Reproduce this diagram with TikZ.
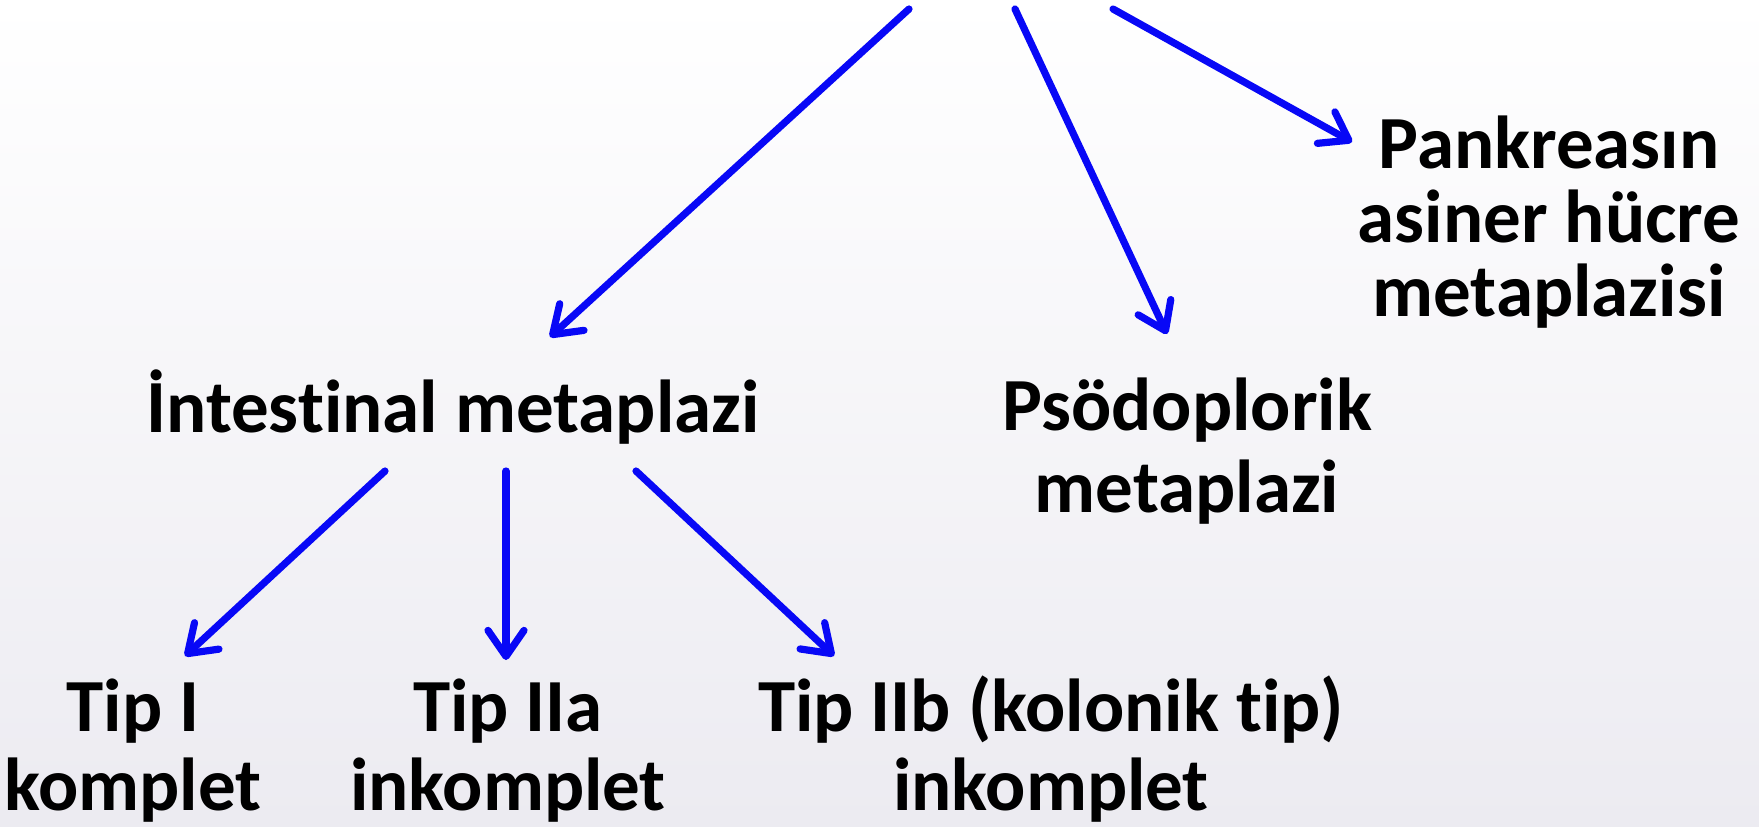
\documentclass[tikz,border=0pt]{standalone}
\usepackage{fontspec}
\setmainfont{Carlito}[Ligatures=NoCommon]
\usetikzlibrary{arrows.meta}
\definecolor{arrowblue}{RGB}{8,8,246}
\definecolor{bggray}{RGB}{236,235,241}

\begin{document}
\begin{tikzpicture}[x=0.5pt,y=-0.5pt]
\tikzstyle{bluearrow} = [line width=3.6pt,arrowblue,line cap=round,
  -{Straight Barb[length=13pt,width=18pt,round]}]
\tikzset{txt/.style={font=\bfseries\fontsize{37.5}{#1}\selectfont,align=center,inner sep=0pt,anchor=base},
  txt/.default=40}
% background
\useasboundingbox (0,0) rectangle (1759,826);
\shade[top color=white,bottom color=bggray] (0,0) rectangle (1759,826);
% labels (anchored at the baseline of the last line)
\node[txt] (imeta) at (453,432) {İntestinal metaplazi};
\node[txt=41] (psodo) at (1187,512) {Psödoplorik\\metaplazi};
\node[txt=37] (pank) at (1549,316) {Pankreasın\\asiner hücre\\metaplazisi};
\node[txt=39.5] (tip1) at (133,810) {Tip I\\komplet};
\node[txt=39.5] (tip2a) at (508,810) {Tip IIa\\inkomplet};
\node[txt=39.5] (tip2b) at (1051,810) {Tip IIb (kolonik tip)\\inkomplet};
% arrow ends
\coordinate (top1) at (909,9);
\coordinate (top2) at (1015,9);
\coordinate (top3) at (1113,9);
\coordinate (imeta-in) at (550,337);
\coordinate (psodo-in) at (1167,334);
\coordinate (pank-in) at (1352,142);
\coordinate (imeta-out1) at (385,471);
\coordinate (imeta-out2) at (506,471);
\coordinate (imeta-out3) at (636,471);
\coordinate (tip1-in) at (185,656);
\coordinate (tip2a-in) at (506,660);
\coordinate (tip2b-in) at (834,656);
% arrows
\draw[bluearrow] (top1) -- (imeta-in);
\draw[bluearrow] (top2) -- (psodo-in);
\draw[bluearrow] (top3) -- (pank-in);
\draw[bluearrow] (imeta-out1) -- (tip1-in);
\draw[bluearrow] (imeta-out2) -- (tip2a-in);
\draw[bluearrow] (imeta-out3) -- (tip2b-in);
\end{tikzpicture}
\end{document}
